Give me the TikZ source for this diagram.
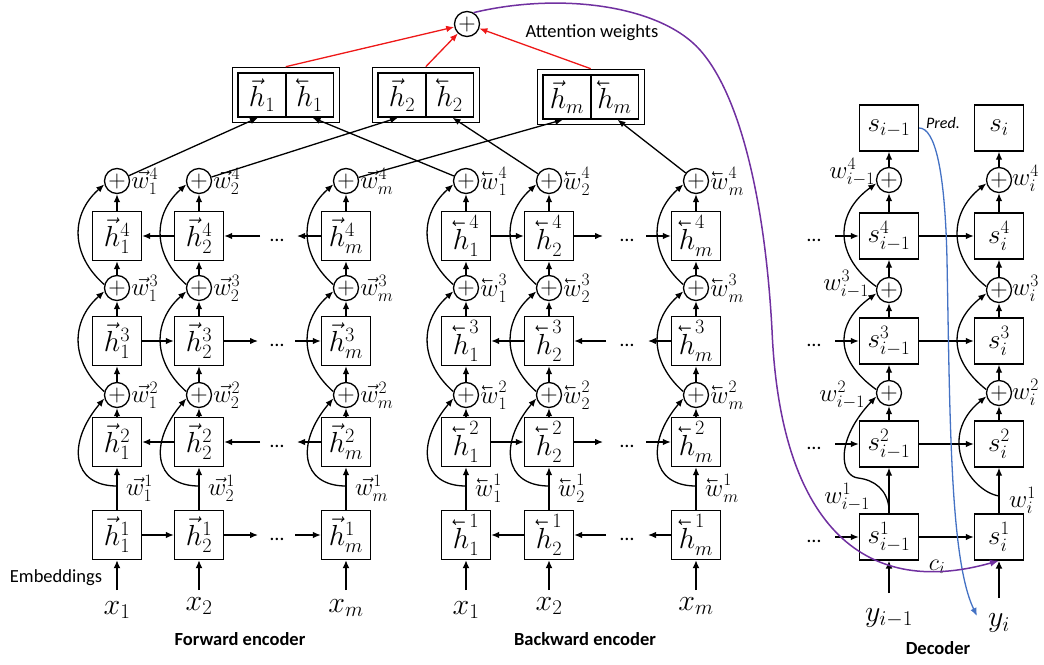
\RequirePackage{fix-cm}
\documentclass[tikz,border=0pt]{standalone}
\usepackage{fontspec}
\usepackage{graphicx}
\usetikzlibrary{arrows.meta,fit,calc}
\newfontfamily\calib{Carlito}
\newcommand{\lvec}[1]{\reflectbox{$\vec{\reflectbox{$#1$}}$}}
\definecolor{attred}{RGB}{238,24,24}
\definecolor{purp}{RGB}{112,48,160}
\definecolor{predblue}{RGB}{68,114,196}
\begin{document}
\begin{tikzpicture}[x=1pt,y=-1pt,
  box/.style={draw,line width=1.3pt,minimum width=49pt,minimum height=49pt,inner sep=0pt,font=\fontsize{29}{31}\selectfont},
  dbox/.style={draw,line width=1.3pt,minimum height=46pt,inner sep=0pt,font=\fontsize{27}{30}\selectfont},
  cell/.style={draw,line width=1.3pt,minimum width=48pt,minimum height=44pt,inner sep=0pt,font=\fontsize{29}{31}\selectfont},
  pl/.style={draw,circle,line width=1.3pt,minimum size=25pt,inner sep=0pt,font=\fontsize{24}{26}\selectfont},
  wl/.style={font=\fontsize{25}{27}\selectfont,inner sep=0pt},
  ln/.style={line width=1.3pt},
  arr/.style={-{Latex[length=8pt,width=6.5pt]},line width=1.3pt},
  inp/.style={-{Latex[length=8pt,width=7pt]},line width=2.6pt},
  rarr/.style={-{Latex[length=8pt,width=6.5pt]},line width=1.3pt,attred},
  dotsty/.style={font=\calib\fontsize{20}{22}\selectfont,inner sep=0pt},
  sans/.style={font=\calib\fontsize{18.5}{21}\selectfont},
  bsans/.style={font=\calib\bfseries\fontsize{18.5}{21}\selectfont},
  xl/.style={font=\fontsize{30}{32}\selectfont}]
\useasboundingbox (0,0) rectangle (1044,664);

% ---------- encoder columns ----------
\foreach \n/\X/\s/\A in {f1/117/1/\vec, f2/199/2/\vec, fm/346/m/\vec, b1/466/1/\lvec, b2/549/2/\lvec, bm/696/m/\lvec}{
  \node[box] (\n-h1) at (\X,535) {$\A{h}_{\s}^{1}$};
  \node[box] (\n-h2) at (\X,442) {$\A{h}_{\s}^{2}$};
  \node[box] (\n-h3) at (\X,341) {$\A{h}_{\s}^{3}$};
  \node[box] (\n-h4) at (\X,236) {$\A{h}_{\s}^{4}$};
  \node[pl] (\n-p2) at (\X,395) {$+$};
  \node[pl] (\n-p3) at (\X,288) {$+$};
  \node[pl] (\n-p4) at (\X,181) {$+$};
  \coordinate (\n-j) at (\X,486);
  \coordinate (\n-in) at (\X,590);
  \draw[inp] (\n-in) -- (\n-h1);
  \draw[ln] (\n-h1) -- (\n-j);
  \draw[arr] (\n-j) -- (\n-h2);
  \draw[arr] (\n-h2) -- (\n-p2);
  \draw[arr] (\n-p2) -- (\n-h3);
  \draw[arr] (\n-h3) -- (\n-p3);
  \draw[arr] (\n-p3) -- (\n-h4);
  \draw[arr] (\n-h4) -- (\n-p4);
  \draw[arr] (\n-j) .. controls +(-45,0) and +(-38,45) .. (\n-p2.195);
  \draw[arr] (\n-p2.165) .. controls +(-34,-30) and +(-34,30) .. (\n-p3.195);
  \draw[arr] (\n-p3.165) .. controls +(-34,-30) and +(-34,30) .. (\n-p4.195);
  \node[wl,anchor=west] at ([xshift=1pt]\n-p4.east) {$\A{w}_{\s}^{4}$};
  \node[wl,anchor=west] at ([xshift=1pt]\n-p3.east) {$\A{w}_{\s}^{3}$};
  \node[wl,anchor=west] at ([xshift=1pt]\n-p2.east) {$\A{w}_{\s}^{2}$};
  \node[wl,anchor=west] at ($(\n-j)+(9,2)$) {$\A{w}_{\s}^{1}$};
}

% forward horizontal connections
\foreach \k/\Y in {4/236, 2/442}{
  \draw[arr] (f2-h\k) -- (f1-h\k);
  \coordinate (fa\k) at (260,\Y);
  \draw[arr] (fa\k) -- (f2-h\k);
  \coordinate (fb\k) at (297,\Y);
  \draw[arr] (fm-h\k) -- (fb\k);
  \node[dotsty] at (277,\Y+4) {…};
}
\foreach \k/\Y in {3/341, 1/535}{
  \draw[arr] (f1-h\k) -- (f2-h\k);
  \coordinate (fa\k) at (258,\Y);
  \draw[arr] (f2-h\k) -- (fa\k);
  \coordinate (fb\k) at (295,\Y);
  \draw[arr] (fb\k) -- (fm-h\k);
  \node[dotsty] at (277,\Y+4) {…};
}
% backward horizontal connections
\foreach \k/\Y in {4/236, 2/442}{
  \draw[arr] (b1-h\k) -- (b2-h\k);
  \coordinate (ba\k) at (603,\Y);
  \draw[arr] (b2-h\k) -- (ba\k);
  \coordinate (bb\k) at (646,\Y);
  \draw[arr] (bb\k) -- (bm-h\k);
  \node[dotsty] at (627,\Y+4) {…};
}
\foreach \k/\Y in {3/341, 1/535}{
  \draw[arr] (b2-h\k) -- (b1-h\k);
  \coordinate (ba\k) at (606,\Y);
  \draw[arr] (ba\k) -- (b2-h\k);
  \coordinate (bb\k) at (648,\Y);
  \draw[arr] (bm-h\k) -- (bb\k);
  \node[dotsty] at (627,\Y+4) {…};
}

% inputs
\node[xl] at (117,610) {$x_1$};
\node[xl] at (199,606) {$x_2$};
\node[xl] at (346,608) {$x_m$};
\node[xl] at (466,610) {$x_1$};
\node[xl] at (549,606) {$x_2$};
\node[xl] at (696,606) {$x_m$};
\node[sans] at (56,578) {Embeddings};
\node[bsans] at (240,639) {Forward encoder};
\node[bsans] at (585,639) {Backward encoder};

% ---------- concatenation boxes ----------
\node[cell] (c1l) at (262,95) {$\vec{h}_1$};
\node[cell] (c1r) at (309.5,95) {$\lvec{h}_1$};
\node[draw,line width=1.3pt,fit=(c1l)(c1r),inner sep=5pt] (c1) {};
\node[cell] (c2l) at (402,95) {$\vec{h}_2$};
\node[cell] (c2r) at (449.5,95) {$\lvec{h}_2$};
\node[draw,line width=1.3pt,fit=(c2l)(c2r),inner sep=5pt] (c2) {};
\node[cell] (cml) at (567,97) {$\vec{h}_m$};
\node[cell] (cmr) at (614.5,97) {$\lvec{h}_m$};
\node[draw,line width=1.3pt,fit=(cml)(cmr),inner sep=5pt] (cm) {};

\draw[arr] (f1-p4) -- ([xshift=-4pt]c1l.south);
\draw[arr] (f2-p4) -- ([xshift=-4pt]c2l.south);
\draw[arr] (fm-p4) -- ([xshift=-4pt]cml.south);
\draw[arr] (b1-p4) -- ([xshift=3pt]c1r.south);
\draw[arr] (b2-p4) -- ([xshift=3pt]c2r.south);
\draw[arr] (bm-p4) -- ([xshift=3pt]cmr.south);

\node[pl] (P) at (467,24) {$+$};
\draw[rarr] (c1.north) -- (P);
\draw[rarr] (c2.north) -- (P);
\draw[rarr] (cm.north) -- (P);
\node[sans] at (592,33) {Attention weights};

% ---------- decoder ----------
\foreach \n/\X/\s/\W/\B in {d1/889/{i-1}/59/42, d2/999/i/49/38}{
  \node[dbox,minimum width=\W pt] (\n-t) at (\X,128) {$s_{\s}$};
  \node[dbox,minimum width=\W pt] (\n-s4) at (\X,236) {$s_{\s}^{4}$};
  \node[dbox,minimum width=\W pt] (\n-s3) at (\X,341) {$s_{\s}^{3}$};
  \node[dbox,minimum width=\W pt] (\n-s2) at (\X,444) {$s_{\s}^{2}$};
  \node[dbox,minimum width=\W pt] (\n-s1) at (\X,537) {$s_{\s}^{1}$};
  \node[pl] (\n-p4) at (\X,180) {$+$};
  \node[pl] (\n-p3) at (\X,290) {$+$};
  \node[pl] (\n-p2) at (\X,393) {$+$};
  \draw[arr] (\n-s2) -- (\n-p2);
  \draw[arr] (\n-p2) -- (\n-s3);
  \draw[arr] (\n-s3) -- (\n-p3);
  \draw[arr] (\n-p3) -- (\n-s4);
  \draw[arr] (\n-s4) -- (\n-p4);
  \draw[arr] (\n-p4) -- (\n-t);
  \draw[arr] (\n-p2.165) .. controls +(-\B,-30) and +(-\B,30) .. (\n-p3.195);
  \draw[arr] (\n-p3.165) .. controls +(-\B,-30) and +(-\B,30) .. (\n-p4.195);
}
\coordinate (d1-j) at (889,508);
\coordinate (d2-j) at (999,496);
\draw[ln] (d1-s1) -- (d1-j);
\draw[arr] (d1-j) -- (d1-s2);
\draw[ln] (d2-s1) -- (d2-j);
\draw[arr] (d2-j) -- (d2-s2);
\draw[arr] (d1-j) .. controls (887,490) and (875,480) .. (858,478) .. controls (840,476) and (835,440) .. (d1-p2.195);
\draw[arr] (d2-j) .. controls +(-30,-5) and +(-50,40) .. (d2-p2.195);

\foreach \k/\Y in {4/236, 3/341, 2/444, 1/537}{
  \draw[arr] (d1-s\k) -- (d2-s\k);
  \coordinate (dd\k) at (835,\Y);
  \draw[arr] (dd\k) -- (d1-s\k);
  \node[dotsty] at (814,\Y+4) {…};
}
\coordinate (d1-in) at (889,593);
\coordinate (d2-in) at (999,598);
\draw[inp] (d1-in) -- (d1-s1);
\draw[inp] (d2-in) -- (d2-s1);

\node[wl,anchor=east] at (875,172) {$w_{i-1}^{4}$};
\node[wl,anchor=east] at (869,284) {$w_{i-1}^{3}$};
\node[wl,anchor=east] at (865,395) {$w_{i-1}^{2}$};
\node[wl,anchor=east] at (870,497) {$w_{i-1}^{1}$};
\node[wl,anchor=west] at (1012,178) {$w_{i}^{4}$};
\node[wl,anchor=west] at (1012,288) {$w_{i}^{3}$};
\node[wl,anchor=west] at (1012,392) {$w_{i}^{2}$};
\node[wl,anchor=west] at (1009,500) {$w_{i}^{1}$};

\node[xl] (yim) at (889,618) {$y_{i-1}$};
\node[xl] (yi) at (999,623) {$y_i$};
\node[bsans] at (938,648) {Decoder};
\node[font=\calib\itshape\fontsize{16}{18}\selectfont] at (943,123) {Pred.};
\node[font=\fontsize{24}{26}\selectfont] at (937,567) {$c_i$};

% prediction feedback
\coordinate (predend) at (977,616);
\draw[-{Latex[length=8pt,width=6.5pt]},line width=1.3pt,predblue] (d1-t.east) .. controls (935,128) and (945,170) .. (947,260) .. controls (950,420) and (950,560) .. (predend);

% context vector
\draw[-{Latex[length=9pt,width=7pt]},line width=1.5pt,purp] (P.60) .. controls (560,-8) and (660,5) .. (700,50) .. controls (740,95) and (765,200) .. (772,330) .. controls (780,520) and (860,600) .. (d2-s1.south);
\end{tikzpicture}
\end{document}
